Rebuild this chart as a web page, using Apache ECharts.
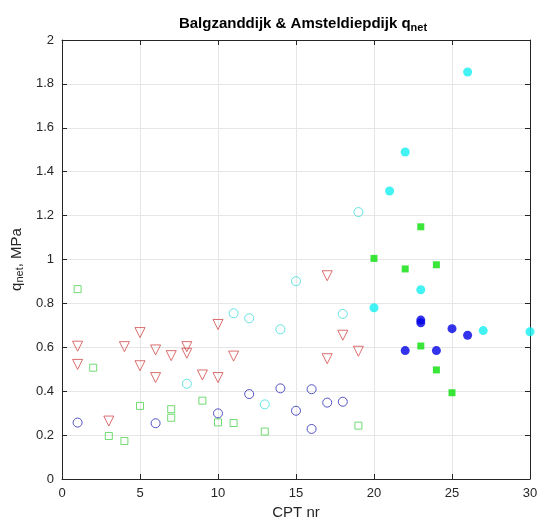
<!DOCTYPE html>
<html>
<head>
<meta charset="utf-8">
<script src="https://cdn.jsdelivr.net/npm/echarts@6/dist/echarts.min.js"></script>
<style>
  body { margin: 0; background: #fff; }
  #main { width: 537px; height: 520px; }
</style>
</head>
<body>
<div id="main"></div>
<script>
// open markers: Balgzanddijk, filled markers: Amsteldiepdijk
var greenOpenX = [1, 2, 3, 4, 5, 7, 7, 9, 10, 11, 13, 19];
var greenOpenY = [0.865, 0.507, 0.196, 0.173, 0.333, 0.318, 0.279, 0.357, 0.258, 0.255, 0.216, 0.243];

var redTriX = [1, 1, 3, 4, 5, 5, 6, 6, 7, 8, 8, 9, 10, 10, 11, 17, 17, 18, 19];
var redTriY = [0.605, 0.522, 0.264, 0.603, 0.667, 0.516, 0.588, 0.462, 0.562, 0.603, 0.573, 0.474, 0.704, 0.462, 0.560, 0.926, 0.548, 0.655, 0.582];

var blueOpenX = [1, 6, 10, 12, 14, 15, 16, 16, 17, 18];
var blueOpenY = [0.257, 0.254, 0.299, 0.387, 0.413, 0.311, 0.409, 0.228, 0.348, 0.352];

var cyanOpenX = [8, 11, 12, 13, 14, 15, 18, 19];
var cyanOpenY = [0.434, 0.755, 0.732, 0.340, 0.682, 0.901, 0.752, 1.216];

var cyanFillX = [20, 21, 22, 23, 26, 27, 30];
var cyanFillY = [0.780, 1.312, 1.490, 0.862, 1.854, 0.676, 0.671];

var blueFillX = [22, 23, 23, 24, 25, 26];
var blueFillY = [0.585, 0.712, 0.724, 0.585, 0.685, 0.655];

var greenFillX = [20, 22, 23, 23, 24, 24, 25];
var greenFillY = [1.005, 0.957, 1.149, 0.606, 0.976, 0.497, 0.393];

function pairs(xs, ys) {
    var out = [];
    for (var i = 0; i < xs.length; i++) {
        out.push([xs[i], ys[i]]);
    }
    return out;
}

function openSeries(xs, ys, symbol, size, color, rotate) {
    return {
        type: 'scatter',
        data: pairs(xs, ys),
        symbol: symbol,
        symbolSize: size,
        symbolRotate: rotate || 0,
        itemStyle: { color: 'rgba(255,255,255,0)', borderColor: color, borderWidth: 1 },
        silent: true
    };
}

function fillSeries(xs, ys, symbol, size, color) {
    return {
        type: 'scatter',
        data: pairs(xs, ys),
        symbol: symbol,
        symbolSize: size,
        itemStyle: { color: color },
        silent: true
    };
}

var font = 'Liberation Sans, Arial, sans-serif';
var myChart = echarts.init(document.getElementById('main'));

var axisLine = { show: true, onZero: false, lineStyle: { color: '#262626', width: 1 } };
var axisTick = { show: true, inside: true, length: 5, lineStyle: { color: '#262626' } };
var gridLine = { show: true, lineStyle: { color: '#e6e6e6', width: 1 } };

myChart.setOption({
    animation: false,
    title: {
        text: '{b|Balgzanddijk & Amsteldiepdijk q}{s|net}',
        left: 298,
        textAlign: 'center',
        top: 10,
        textStyle: {
            rich: {
                b: { fontFamily: font, fontSize: 15, fontWeight: 'bold', color: '#000' },
                s: { fontFamily: font, fontSize: 11, fontWeight: 'bold', color: '#000', verticalAlign: 'bottom', padding: [7, 0, 0, 0] }
            }
        }
    },
    grid: { left: 62, top: 40, width: 468, height: 439, outerBoundsMode: 'none', containLabel: false },
    xAxis: [{
        type: 'value',
        min: 0, max: 30, interval: 5,
        name: 'CPT nr',
        nameLocation: 'middle',
        nameGap: 23,
        nameTextStyle: { fontFamily: font, fontSize: 15, color: '#262626' },
        axisLine: axisLine,
        axisTick: axisTick,
        axisLabel: { fontFamily: font, fontSize: 13, color: '#262626', margin: 8 },
        splitLine: gridLine
    }, {
        type: 'value',
        position: 'top',
        min: 0, max: 30, interval: 5,
        axisLine: axisLine,
        axisTick: axisTick,
        axisLabel: { show: false },
        splitLine: { show: false }
    }],
    yAxis: [{
        type: 'value',
        min: 0, max: 2, interval: 0.2,
        name: '{t|q}{s|net}{t|, MPa}',
        nameLocation: 'middle',
        nameGap: 31,
        nameRotate: 90,
        nameTextStyle: {
            rich: {
                t: { fontFamily: font, fontSize: 15, color: '#262626' },
                s: { fontFamily: font, fontSize: 11, color: '#262626', verticalAlign: 'bottom', padding: [6, 0, 0, 0] }
            }
        },
        axisLine: axisLine,
        axisTick: axisTick,
        axisLabel: {
            fontFamily: font, fontSize: 13, color: '#262626', margin: 8,
            formatter: function (v) { return String(Math.round(v * 10) / 10); }
        },
        splitLine: gridLine
    }, {
        type: 'value',
        position: 'right',
        min: 0, max: 2, interval: 0.2,
        axisLine: axisLine,
        axisTick: axisTick,
        axisLabel: { show: false },
        splitLine: { show: false }
    }],
    series: [
        openSeries(greenOpenX, greenOpenY, 'rect', 7, '#4fd24f'),
        openSeries(redTriX, redTriY, 'triangle', 10, '#d24a4a', 180),
        openSeries(blueOpenX, blueOpenY, 'circle', 9, '#2b2bb8'),
        openSeries(cyanOpenX, cyanOpenY, 'circle', 9, '#3fdcdc'),
        fillSeries(cyanFillX, cyanFillY, 'circle', 9, '#14f0f0'),
        fillSeries(blueFillX, blueFillY, 'circle', 9, '#0000e6'),
        fillSeries(greenFillX, greenFillY, 'rect', 7, '#0ae00a')
    ]
});
</script>
</body>
</html>
